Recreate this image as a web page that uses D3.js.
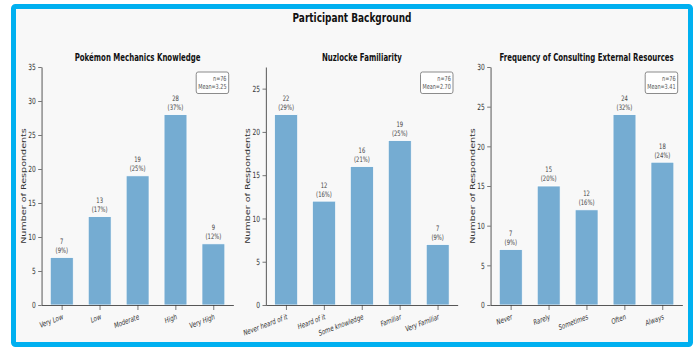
<!DOCTYPE html>
<html>
<head>
<meta charset="utf-8">
<script src="https://cdn.jsdelivr.net/npm/d3@7"></script>
<style>
  html, body { margin: 0; padding: 0; background: #ffffff; }
  svg { display: block; font-family: "DejaVu Sans", sans-serif; }
</style>
</head>
<body>
<svg id="chart" width="700" height="347"></svg>
<script>
// Survey answers, one array per question
const mechanicsCategories = ["Very Low", "Low", "Moderate", "High", "Very High"];
const mechanicsCounts = [7, 13, 19, 28, 9];

const nuzlockeCategories = ["Never heard of it", "Heard of it", "Some knowledge", "Familiar", "Very Familiar"];
const nuzlockeCounts = [22, 12, 16, 19, 7];

const resourcesCategories = ["Never", "Rarely", "Sometimes", "Often", "Always"];
const resourcesCounts = [7, 15, 12, 24, 18];

const panelTitles = ["Pokémon Mechanics Knowledge", "Nuzlocke Familiarity", "Frequency of Consulting External Resources"];
const yTickStep = 5;

const panels = [
  { title: panelTitles[0], cats: mechanicsCategories, counts: mechanicsCounts },
  { title: panelTitles[1], cats: nuzlockeCategories, counts: nuzlockeCounts },
  { title: panelTitles[2], cats: resourcesCategories, counts: resourcesCounts }
];

const W = 700, H = 347;
const sx = 0.7;                 // horizontal squeeze of the whole figure
const X = px => px / sx;        // pixel x -> drawing x inside the squeezed group

const svg = d3.select("#chart");
svg.append("rect").attr("width", W).attr("height", H).attr("fill", "#ffffff");

// Framed figure area
svg.append("rect")
  .attr("x", 13.5).attr("y", 6.5).attr("width", 677).attr("height", 338)
  .attr("rx", 2).attr("fill", "#f8f8f8")
  .attr("stroke", "#00b0f0").attr("stroke-width", 5);

const g = svg.append("g").attr("transform", `scale(${sx},1)`);

g.append("text")
  .attr("x", X(352)).attr("y", 21.7)
  .attr("text-anchor", "middle")
  .attr("font-weight", "bold").attr("font-size", 12.8)
  .attr("fill", "#111")
  .text("Participant Background");

const axLefts = [41.7, 266, 490.7];
const axWidth = 191.8;
const axTop = 67, axBottom = 305;
const barWidth = 0.6;
const barColor = "#75acd2";
const axisColor = "#3a3a3a";
const textColor = "#333";

panels.forEach((p, i) => {
  const x0 = X(axLefts[i]), x1 = X(axLefts[i] + axWidth);
  const n = d3.sum(p.counts);
  const mean = d3.sum(p.counts, (c, k) => c * (k + 1)) / n;
  const ymax = d3.max(p.counts) * 1.25;

  const nCat = p.cats.length;
  const pad = barWidth / 2 + 0.05 * (nCat - 1 + barWidth);
  const x = d3.scaleLinear().domain([-pad, nCat - 1 + pad]).range([x0, x1]);
  const y = d3.scaleLinear().domain([0, ymax]).range([axBottom, axTop]);

  const pg = g.append("g");

  // panel title
  pg.append("text")
    .attr("x", (x0 + x1) / 2).attr("y", 60.7)
    .attr("text-anchor", "middle")
    .attr("font-weight", "bold").attr("font-size", 10)
    .attr("fill", "#111")
    .text(p.title);

  // bars
  pg.selectAll("rect.bar").data(p.counts).join("rect")
    .attr("class", "bar")
    .attr("x", (d, k) => x(k - barWidth / 2))
    .attr("width", (d, k) => x(k + barWidth / 2) - x(k - barWidth / 2))
    .attr("y", d => y(d))
    .attr("height", d => y(0) - y(d))
    .attr("fill", barColor)
    .attr("stroke", "#ffffff").attr("stroke-width", 0.8);

  // count and share above each bar
  const lbl = pg.selectAll("text.val").data(p.counts).join("text")
    .attr("class", "val")
    .attr("text-anchor", "middle")
    .attr("font-size", 7.5)
    .attr("fill", "#444");
  lbl.append("tspan")
    .attr("x", (d, k) => x(k)).attr("y", d => y(d) - 13.5)
    .text(d => d);
  lbl.append("tspan")
    .attr("x", (d, k) => x(k)).attr("y", d => y(d) - 4.5)
    .text(d => `(${Math.round(d / n * 100)}%)`);

  // y axis
  const yAxis = d3.axisLeft(y)
    .tickValues(d3.range(0, ymax + 0.001, yTickStep))
    .tickSize(5).tickPadding(3.5).tickSizeOuter(0);
  const ya = pg.append("g").attr("transform", `translate(${x0},0)`).call(yAxis);
  ya.select(".domain").attr("stroke", axisColor).attr("stroke-width", 1);
  ya.selectAll(".tick line").attr("stroke", axisColor).attr("stroke-width", 0.8);
  ya.selectAll(".tick text")
    .attr("font-size", 8.5).attr("fill", textColor)
    .attr("font-family", "DejaVu Sans, sans-serif");

  // x axis
  const xAxis = d3.axisBottom(x)
    .tickValues(d3.range(nCat))
    .tickFormat(k => p.cats[k])
    .tickSize(5).tickSizeOuter(0);
  const xa = pg.append("g").attr("transform", `translate(0,${axBottom})`).call(xAxis);
  xa.select(".domain").attr("stroke", axisColor).attr("stroke-width", 1);
  xa.selectAll(".tick line").attr("stroke", axisColor).attr("stroke-width", 0.8);
  xa.selectAll(".tick text")
    .attr("font-size", 7.7).attr("fill", textColor)
    .attr("font-family", "DejaVu Sans, sans-serif")
    .attr("text-anchor", "end")
    .attr("x", 2).attr("y", 14).attr("dy", 0)
    .attr("transform", "rotate(-15, 2, 14)");

  // y axis label
  pg.append("text")
    .attr("transform", `translate(${x0 - X(axLefts[0] - 23.5)},${(axTop + axBottom) / 2}) rotate(-90)`)
    .attr("text-anchor", "middle")
    .attr("dy", "0.35em")
    .attr("font-size", 9.6).attr("fill", textColor)
    .text("Number of Respondents");

  // summary box
  const boxRight = x1 - X(4.8);
  const boxTop = axTop + 5;
  const bw = X(32.5), bh = 21.5;
  pg.append("rect")
    .attr("x", boxRight - bw).attr("y", boxTop)
    .attr("width", bw).attr("height", bh)
    .attr("rx", 2.5).attr("ry", 2.5)
    .attr("fill", "#ffffff").attr("fill-opacity", 0.85)
    .attr("stroke", "#777").attr("stroke-width", 1);
  const st = pg.append("text")
    .attr("text-anchor", "end")
    .attr("font-size", 7).attr("fill", "#555");
  st.append("tspan").attr("x", boxRight - X(2.2)).attr("y", boxTop + 9).text(`n=${n}`);
  st.append("tspan").attr("x", boxRight - X(2.2)).attr("y", boxTop + 17.5).text(`Mean=${mean.toFixed(2)}`);
});
</script>
</body>
</html>
